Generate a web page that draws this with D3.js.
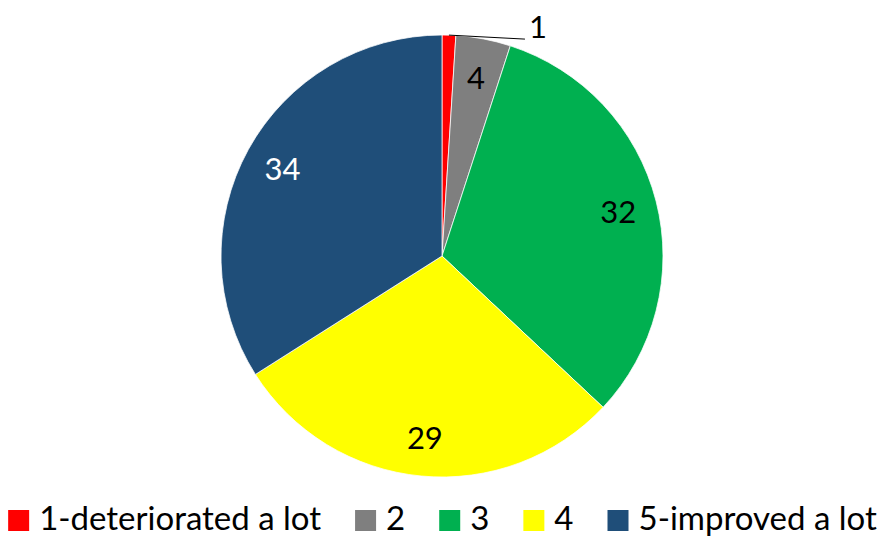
<!DOCTYPE html>
<html>
<head>
<meta charset="utf-8">
<script src="https://cdn.jsdelivr.net/npm/d3@7"></script>
<style>
  body { margin: 0; background: #fff; }
  text { font-family: Lato, "Open Sans", sans-serif; }
</style>
</head>
<body>
<div id="chart"></div>
<script>
// Categories shown in the legend
var categories = ["1-deteriorated a lot", "2", "3", "4", "5-improved a lot"];
// Share of answers per category
var values = [1, 4, 32, 29, 34];
// Slice colours
var colors = ["#ff0000", "#7f7f7f", "#00b050", "#ffff00", "#1f4e79"];
// Colour of the label inside each slice
var labelColors = ["#000", "#000", "#000", "#000", "#fff"];

var width = 880, height = 538;
var cx = 442, cy = 256, radius = 221;

var svg = d3.select("#chart")
    .append("svg")
    .attr("width", width)
    .attr("height", height);

var data = values.map(function (v, i) {
    return { name: categories[i], value: v, color: colors[i], label: labelColors[i] };
});

var pie = d3.pie()
    .sort(null)
    .value(function (d) { return d.value; });

var arcs = pie(data);

var arc = d3.arc().innerRadius(0).outerRadius(radius);
var labelArc = d3.arc().innerRadius(182).outerRadius(182);
var edgeArc = d3.arc().innerRadius(radius).outerRadius(radius);

var g = svg.append("g").attr("transform", "translate(" + cx + "," + cy + ")");

g.selectAll("path.slice")
    .data(arcs)
    .enter()
    .append("path")
    .attr("class", "slice")
    .attr("d", arc)
    .attr("fill", function (d) { return d.data.color; })
    .attr("stroke", "#fff")
    .attr("stroke-width", 0.75);

// labels inside the slices (the tiny first slice gets a leader line)
arcs.forEach(function (d, i) {
    if (i === 0) {
        var p = edgeArc.centroid(d);
        var end = [p[0] + 76, p[1] + 4];
        g.append("polyline")
            .attr("points", [p, end].map(function (q) { return q.join(","); }).join(" "))
            .attr("fill", "none")
            .attr("stroke", "#000")
            .attr("stroke-width", 1);
        g.append("text")
            .attr("x", end[0] + 4)
            .attr("y", end[1] - 1)
            .attr("font-size", 31)
            .attr("fill", d.data.label)
            .text(d.data.value);
        return;
    }
    var c = labelArc.centroid(d);
    g.append("text")
        .attr("x", c[0])
        .attr("y", c[1])
        .attr("text-anchor", "middle")
        .attr("dominant-baseline", "central")
        .attr("font-size", 31)
        .attr("fill", d.data.label)
        .text(d.data.value);
});

// Legend
var legend = svg.append("g");
var x = 0, sq = 21, baseY = 530, gap = 34;
data.forEach(function (d, i) {
    var item = legend.append("g").attr("transform", "translate(" + x + ",0)");
    item.append("rect")
        .attr("x", 0)
        .attr("y", baseY - 20)
        .attr("width", sq)
        .attr("height", sq)
        .attr("fill", d.color);
    var t = item.append("text")
        .attr("x", sq + 10)
        .attr("y", baseY)
        .attr("font-size", 33)
        .attr("fill", "#000")
        .text(d.name);
    x += sq + 10 + t.node().getComputedTextLength() + gap;
});
var total = x - gap;
legend.attr("transform", "translate(" + ((10 + 875) / 2 - total / 2) + ",0)");
</script>
</body>
</html>
